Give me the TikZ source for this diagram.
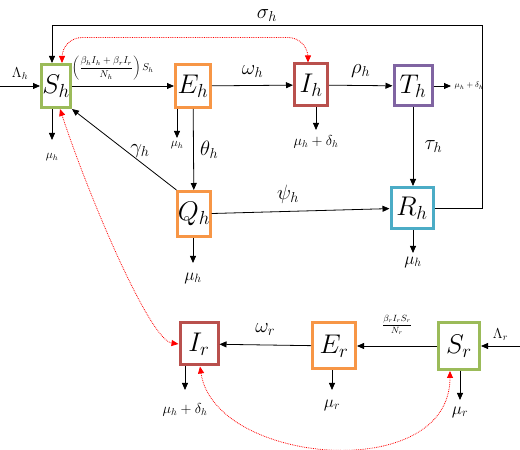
\RequirePackage{fix-cm}
\documentclass[tikz,border=0pt]{standalone}
\usepackage{amsmath}
\usepackage{amssymb}
\usepackage[HTML]{xcolor}
\usetikzlibrary{positioning, arrows, arrows.meta}

\definecolor{boxgreen}{HTML}{9BBB59}
\definecolor{boxorange}{HTML}{F79646}
\definecolor{boxred}{HTML}{B9504D}
\definecolor{boxpurple}{HTML}{8064A2}
\definecolor{boxblue}{HTML}{4BACC6}

\begin{document}
\begin{tikzpicture}[
    x=1pt, y=1pt,
    >={Triangle[length=7pt, width=6pt]},
    comp/.style={draw, line width=3pt, fill=white, inner sep=0pt, font=\fontsize{27}{29}\selectfont},
    flow/.style={->, line width=0.8pt},
    rate/.style={font=\huge},
    loss/.style={font=\Large},
    infect/.style={<->, red, densely dotted, line width=0.8pt}
]
    \useasboundingbox (0,0) rectangle (520,450);

    % 1. Human compartments
    \node[comp, draw=boxgreen, minimum width=29pt, minimum height=43pt] (Sh) at (56,364) {$S_h$};
    \node[comp, draw=boxorange, minimum width=35pt, minimum height=43pt] (Eh) at (193,364) {$E_h$};
    \node[comp, draw=boxred, minimum width=33pt, minimum height=42pt] (Ih) at (311,365) {$I_h$};
    \node[comp, draw=boxpurple, minimum width=38pt, minimum height=40pt] (Th) at (413,364) {$T_h$};
    \node[comp, draw=boxorange, minimum width=32pt, minimum height=45pt] (Qh) at (194,236) {$Q_h$};
    \node[comp, draw=boxblue, minimum width=42pt, minimum height=41pt] (Rh) at (412,242) {$R_h$};

    % 2. Rodent compartments
    \node[comp, draw=boxred, minimum width=38pt, minimum height=42pt] (Ir) at (199,106) {$I_r$};
    \node[comp, draw=boxorange, minimum width=43pt, minimum height=46pt] (Er) at (334,104) {$E_r$};
    \node[comp, draw=boxgreen, minimum width=41pt, minimum height=47pt] (Sr) at (459,104) {$S_r$};

    % 3. Free ends of the flows
    \coordinate (inSh) at (0,364);
    \coordinate (inSr) at (520,104);
    \coordinate (loop) at (482,425);
    \coordinate (outSh) at (52,310);
    \coordinate (outEh) at (177,312);
    \coordinate (outIh) at (316,320);
    \coordinate (outTh) at (451,364);
    \coordinate (outQh) at (193,187);
    \coordinate (outRh) at (413,197);
    \coordinate (outIr) at (185,60);
    \coordinate (outEr) at (332,60);
    \coordinate (outSr) at (460,50);

    % 4. Human flows
    \draw[flow] (inSh) -- (Sh)
        node[midway, above=3pt, loss] {$\Lambda_h$};
    \draw[flow] (Sh) -- (Eh)
        node[pos=0.4, above=2pt, font=\normalsize] {$\left(\dfrac{\beta_h I_h+\beta_r I_r}{N_h}\right)S_h$};
    \draw[flow] (Eh) -- (Ih)
        node[midway, above=4pt, rate] {$\omega_h$};
    \draw[flow] (Ih) -- (Th)
        node[midway, above=4pt, rate] {$\rho_h$};
    \draw[flow] (Eh) -- (Qh)
        node[midway, right=3pt, rate] {$\theta_h$};
    \draw[flow] (Qh.north west) -- (Sh.south east)
        node[pos=0.35, above=0pt, rate] {$\gamma_h$};
    \draw[flow] (Qh) -- (Rh)
        node[pos=0.43, above=4pt, rate] {$\psi_h$};
    \draw[flow] (Th.south) -- (Th.south |- Rh.north)
        node[midway, right=8pt, rate] {$\tau_h$};
    \draw[flow] (Rh.east) -| (loop) -| ([xshift=-4pt]Sh.north)
        node[pos=0.25, above=0pt, rate] {$\sigma_h$};

    % 5. Human losses
    \draw[flow] (Sh.south -| outSh) -- (outSh)
        node[below=10pt, font=\large] {$\mu_h$};
    \draw[flow] (Eh.south -| outEh) -- (outEh)
        node[below=0pt, font=\large] {$\mu_h$};
    \draw[flow] (Ih.south -| outIh) -- (outIh)
        node[below=2pt, loss] {$\mu_h+\delta_h$};
    \draw[flow] (Th.east) -- (outTh)
        node[right=0pt, font=\footnotesize] {$\mu_h+\delta_h$};
    \draw[flow] (Qh.south -| outQh) -- (outQh)
        node[below=6pt, font=\LARGE] {$\mu_h$};
    \draw[flow] (Rh.south -| outRh) -- (outRh)
        node[below=0pt, font=\LARGE] {$\mu_h$};

    % 6. Rodent flows
    \draw[flow] (inSr) -- (Sr)
        node[midway, above=2pt, loss] {$\Lambda_r$};
    \draw[flow] (Sr) -- (Er)
        node[midway, above=8pt, font=\small] {$\dfrac{\beta_r I_r S_r}{N_r}$};
    \draw[flow] (Er) -- (Ir)
        node[midway, above=6pt, rate] {$\omega_r$};
    \draw[flow] (Ir.south -| outIr) -- (outIr)
        node[below=10pt, loss] {$\mu_h+\delta_h$};
    \draw[flow] (Er.south -| outEr) -- (outEr)
        node[below=6pt, font=\LARGE] {$\mu_r$};
    \draw[flow] (Sr.south -| outSr) -- (outSr)
        node[below=3pt, font=\LARGE] {$\mu_r$};

    % 7. Infection links (dotted red)
    \draw[infect, rounded corners=20pt] ([xshift=6pt]Sh.north)
        |- ([xshift=-3pt, yshift=25pt]Ih.north) -- ([xshift=-3pt]Ih.north);
    \draw[infect] ([xshift=4pt]Sh.south) .. controls (90,250) and (150,110) .. (Ir.west);
    \draw[infect] ([xshift=1pt]Ir.south) .. controls (215,-15) and (450,-35) .. ([xshift=-9pt]Sr.south);
\end{tikzpicture}
\end{document}
